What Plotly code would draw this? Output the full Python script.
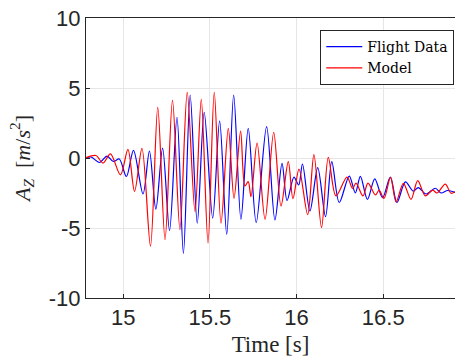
import plotly.graph_objects as go

# Flight Data (blue) - local extrema
flight_t = [14.785, 14.814, 14.863, 14.906, 14.943, 14.977, 15.018, 15.059, 15.114, 15.151,
            15.188, 15.227, 15.267, 15.310, 15.347, 15.386, 15.427, 15.467, 15.516, 15.556,
            15.597, 15.637, 15.679, 15.721, 15.767, 15.827, 15.875, 15.916, 15.945, 15.985,
            16.012, 16.034, 16.077, 16.122, 16.167, 16.203, 16.246, 16.304, 16.339, 16.368,
            16.409, 16.451, 16.496, 16.541, 16.579, 16.628, 16.673, 16.702, 16.748, 16.800,
            16.833, 16.872, 16.914]
flight_az = [-0.02, 0.07, -0.32, 0.14, -0.25, -0.07, -1.32, 0.54, -2.57, 0.50,
             -3.66, 0.71, -5.19, 2.91, -6.81, 4.50, -4.66, 3.26, -4.29, 2.66,
             -5.45, 4.50, -4.38, 2.12, -4.62, 2.24, -4.43, -0.39, -3.04, -1.36,
             -1.93, -0.43, -3.79, -0.69, -4.19, -0.26, -3.18, -1.29, -2.50, -1.31,
             -2.96, -1.49, -2.84, -1.36, -3.18, -1.71, -2.36, -2.11, -2.57, -2.16,
             -2.50, -2.32, -2.46]

# Model (red)
model_t = [14.785, 14.842, 14.883, 14.926, 14.984, 15.027, 15.065, 15.108, 15.157, 15.199,
           15.241, 15.284, 15.327, 15.369, 15.414, 15.450, 15.489, 15.525, 15.564, 15.606,
           15.639, 15.677, 15.702, 15.721, 15.737, 15.772, 15.818, 15.868, 15.910, 15.952,
           15.979, 16.014, 16.064, 16.100, 16.144, 16.183, 16.227, 16.291, 16.323, 16.343,
           16.383, 16.412, 16.455, 16.476, 16.504, 16.542, 16.574, 16.616, 16.660, 16.699,
           16.743, 16.785, 16.810, 16.858, 16.891, 16.914]
model_az = [0.02, 0.18, -0.36, 0.29, -1.21, 0.62, -2.39, 0.69, -6.29, 3.62,
            -5.82, 4.12, -5.11, 4.69, -3.84, 4.19, -6.07, 4.69, -4.66, 2.12,
            -2.88, 1.93, -2.00, -1.69, -2.76, 1.07, -4.38, 1.84, -3.43, -0.26,
            -2.91, -0.79, -4.04, 0.24, -4.96, 0.05, -2.71, -1.36, -2.18, -1.79,
            -2.71, -1.79, -2.64, -2.29, -2.89, -1.39, -3.14, -1.81, -2.95, -1.62,
            -2.71, -2.29, -2.50, -1.86, -2.52, -2.41]

x_ticks = [15, 15.5, 16, 16.5]
y_ticks = [-10, -5, 0, 5, 10]

fig = go.Figure()
fig.add_trace(go.Scatter(x=flight_t, y=flight_az, mode="lines", name="Flight Data",
                         line=dict(color="#0000FF", width=1.2, shape="spline", smoothing=0.9)))
fig.add_trace(go.Scatter(x=model_t, y=model_az, mode="lines", name="Model",
                         line=dict(color="#FF0000", width=1.2, shape="spline", smoothing=0.9)))

axis_common = dict(showline=True, linecolor="#262626", linewidth=1, ticks="inside",
                   ticklen=4, tickcolor="#262626", showgrid=True, gridcolor="#e6e6e6",
                   gridwidth=1, zeroline=False,
                   tickfont=dict(family="Liberation Sans, Arial", size=22, color="#262626"))

fig.update_layout(
    width=455, height=364,
    margin=dict(l=86, r=0, t=18, b=66),
    paper_bgcolor="white", plot_bgcolor="white",
    xaxis=dict(range=[14.785, 16.914], tickvals=x_ticks, ticktext=["15", "15.5", "16", "16.5"],
               mirror=True,
               title=dict(text="Time [s]", font=dict(family="Liberation Serif, DejaVu Serif", size=23, color="#262626"),
                          standoff=6),
               **axis_common),
    yaxis=dict(range=[-10, 10], tickvals=y_ticks, ticktext=["-10", "-5", "0", "5", "10"],
               mirror=False,
               title=dict(text="<i>A</i><sub><i>Z</i></sub>  [<i>m</i>/<i>s</i><sup>2</sup>]",
                          font=dict(family="Liberation Serif, DejaVu Serif", size=22, color="#262626"),
                          standoff=12),
               **axis_common),
    legend=dict(x=0.998, xanchor="right", y=0.957, yanchor="top",
                bgcolor="white", bordercolor="#262626", borderwidth=1,
                font=dict(family="DejaVu Serif", size=14, color="#000000"),
                tracegroupgap=0, itemwidth=36),
    showlegend=True,
)

fig.write_html("out.html")
